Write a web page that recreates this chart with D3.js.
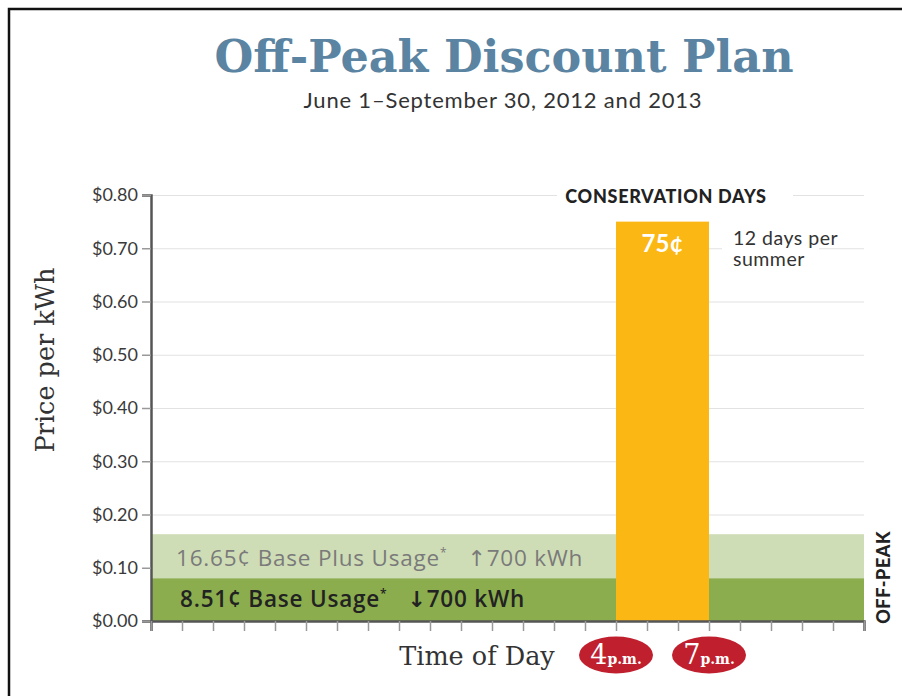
<!DOCTYPE html>
<html>
<head>
<meta charset="utf-8">
<script src="https://cdn.jsdelivr.net/npm/d3@7"></script>
<style>
  body { margin: 0; background: #fff; }
  svg { display: block; }
</style>
</head>
<body>
<div id="chart"></div>
<script>
// Chart data
var yTicks = [0, 0.1, 0.2, 0.3, 0.4, 0.5, 0.6, 0.7, 0.8];
var hours = [1, 2, 3, 4, 5, 6, 7, 8, 9, 10, 11, 12, 13, 14, 15, 16, 17, 18, 19, 20, 21, 22, 23, 24];
var bandNames = ["Base Plus Usage", "Base Usage"];
var bandValues = [0.163, 0.080];
var bandPrices = ["16.65¢", "8.51¢"];
var bandArrows = ["↑", "↓"];
var bandLimits = ["700 kWh", "700 kWh"];
var peakHours = [16, 19];
var peakValue = 0.75;
var peakLabels = ["4", "7"];

var W = 902, H = 696;

var svg = d3.select("#chart").append("svg")
    .attr("width", W)
    .attr("height", H);

// frame (top + left only)
svg.append("path")
    .attr("d", "M9,696 V9 H902")
    .attr("fill", "none")
    .attr("stroke", "#111")
    .attr("stroke-width", 2.5);

var x = d3.scaleLinear().domain([1, 24]).range([151, 864]);
var y = d3.scaleLinear().domain([0, 0.8]).range([621, 195]);

// Title
svg.append("text")
    .attr("x", 504).attr("y", 72)
    .attr("text-anchor", "middle")
    .style("font-family", "DejaVu Serif")
    .style("font-weight", "bold")
    .style("font-size", "44.5px")
    .style("fill", "#5a84a2")
    .text("Off-Peak Discount Plan");

svg.append("text")
    .attr("x", 503).attr("y", 108)
    .attr("text-anchor", "middle")
    .style("font-family", "Lato")
    .style("font-size", "22px")
    .style("letter-spacing", "0.8px")
    .style("fill", "#333")
    .text("June 1–September 30, 2012 and 2013");

// gridlines
svg.append("g")
    .attr("transform", "translate(151,0)")
    .call(d3.axisRight(y).tickValues(yTicks.slice(1)).tickSize(713).tickFormat(""))
    .call(g => g.select(".domain").remove())
    .selectAll("line")
    .attr("stroke", "#e2e2e2")
    .attr("stroke-width", 1.2);

// off-peak bands
svg.selectAll(".band")
    .data(bandValues)
    .enter().append("rect")
    .attr("class", "band")
    .attr("x", x(1))
    .attr("width", x(24) - x(1))
    .attr("y", d => y(d))
    .attr("height", d => y(0) - y(d))
    .attr("fill", (d, i) => i == 0 ? "#cfddb6" : "#8bad4e");

// conservation bar
svg.append("rect")
    .attr("x", x(peakHours[0]))
    .attr("width", x(peakHours[1]) - x(peakHours[0]))
    .attr("y", y(peakValue))
    .attr("height", y(0) - y(peakValue))
    .attr("fill", "#fbb714");

svg.append("text")
    .attr("x", (x(peakHours[0]) + x(peakHours[1])) / 2)
    .attr("y", y(peakValue) + 30)
    .attr("text-anchor", "middle")
    .style("font-family", "Lato")
    .style("font-weight", "bold")
    .style("font-size", "24px")
    .style("fill", "#fff")
    .text(Math.round(peakValue * 100) + "¢");

// CONSERVATION DAYS header with white background
svg.append("rect")
    .attr("x", 557).attr("y", y(0.8) - 10)
    .attr("width", 236).attr("height", 20)
    .attr("fill", "#fff");
svg.append("text")
    .attr("x", 666).attr("y", y(0.8) + 8)
    .attr("text-anchor", "middle")
    .style("font-family", "Lato")
    .style("font-weight", "900")
    .style("font-size", "18px")
    .style("letter-spacing", "0.7px")
    .style("fill", "#222")
    .text("CONSERVATION DAYS");

svg.append("rect")
    .attr("x", 722).attr("y", y(0.7) - 10)
    .attr("width", 97).attr("height", 20)
    .attr("fill", "#fff");
var note = svg.append("text")
    .style("font-family", "Lato")
    .style("font-size", "19.5px")
    .style("letter-spacing", "0.5px")
    .style("fill", "#333");
note.append("tspan").attr("x", 733).attr("y", 245).text("12 days per");
note.append("tspan").attr("x", 733).attr("y", 266).text("summer");

// band labels
var bandText = svg.selectAll(".bandlabel")
    .data(bandValues)
    .enter().append("text")
    .attr("class", "bandlabel")
    .attr("x", (d, i) => i == 0 ? 176 : 180)
    .attr("y", (d, i) => i == 0 ? 566 : 607)
    .style("font-family", "Open Sans")
    .style("font-size", "22.5px")
    .style("letter-spacing", "0.8px")
    .style("font-weight", (d, i) => i == 0 ? "normal" : "600")
    .style("fill", (d, i) => i == 0 ? "#7a7a7a" : "#222");
bandText.append("tspan").text((d, i) => bandPrices[i] + " " + bandNames[i]);
bandText.append("tspan").attr("dy", -9).style("font-size", "12px").text("*");
bandText.append("tspan").attr("dy", 9).attr("dx", 20)
    .style("font-family", "DejaVu Sans")
    .style("font-size", "22px")
    .text((d, i) => bandArrows[i]);
bandText.append("tspan").attr("dx", 0).text((d, i) => bandLimits[i]);

// OFF-PEAK label
svg.append("text")
    .attr("transform", "translate(890," + y(0.082) + ") rotate(-90)")
    .attr("text-anchor", "middle")
    .style("font-family", "Lato")
    .style("font-weight", "900")
    .style("font-size", "18px")
    .style("letter-spacing", "0.6px")
    .style("fill", "#222")
    .text("OFF-PEAK");

// y axis
var yAxis = svg.append("g")
    .attr("transform", "translate(151,0)")
    .call(d3.axisLeft(y).tickValues(yTicks).tickSize(9).tickPadding(4).tickFormat(d3.format("$.2f")));
yAxis.select(".domain").attr("stroke", "#555").attr("stroke-width", 2.5);
yAxis.selectAll(".tick line").attr("stroke", "#999").attr("stroke-width", 1.5);
yAxis.selectAll("text")
    .style("font-family", "Lato")
    .style("font-size", "18px")
    .style("fill", "#3a3a3a");

// x axis
var xAxis = svg.append("g")
    .attr("transform", "translate(0,621)")
    .call(d3.axisBottom(x).tickValues(hours).tickSize(10).tickFormat(""));
xAxis.select(".domain").attr("stroke", "#555").attr("stroke-width", 2.5);
xAxis.selectAll(".tick line").attr("stroke", "#999").attr("stroke-width", 1.5);

// axis titles
svg.append("text")
    .attr("transform", "translate(54,360) rotate(-90)")
    .attr("text-anchor", "middle")
    .style("font-family", "DejaVu Serif")
    .style("font-size", "25.5px")
    .style("fill", "#333")
    .text("Price per kWh");

svg.append("text")
    .attr("x", 477).attr("y", 665)
    .attr("text-anchor", "middle")
    .style("font-family", "DejaVu Serif")
    .style("font-size", "25.5px")
    .style("fill", "#333")
    .text("Time of Day");

// hour badges
var badge = svg.selectAll(".badge")
    .data(peakHours)
    .enter().append("g")
    .attr("class", "badge")
    .attr("transform", d => "translate(" + x(d) + ",655)");
badge.append("ellipse")
    .attr("rx", 37).attr("ry", 18.5)
    .attr("fill", "#c01f2e");
var bt = badge.append("text")
    .attr("text-anchor", "middle")
    .attr("y", 9)
    .style("font-family", "DejaVu Serif")
    .style("fill", "#fff");
bt.append("tspan").style("font-size", "27px").text((d, i) => peakLabels[i]);
bt.append("tspan").style("font-size", "14px").style("font-weight", "bold").text("p.m.");
</script>
</body>
</html>
